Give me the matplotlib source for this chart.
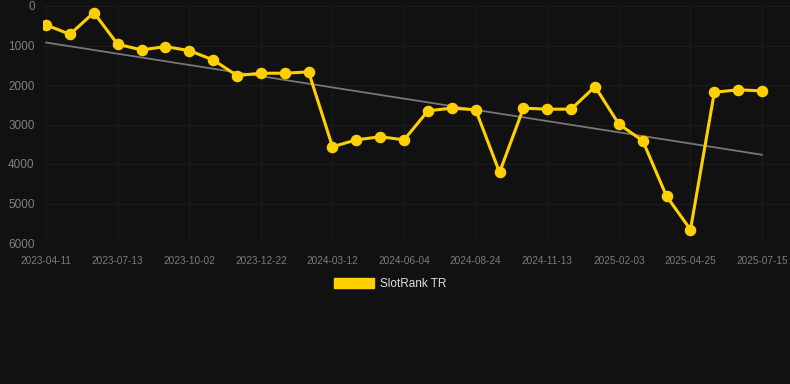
import matplotlib
matplotlib.use("Agg")
import matplotlib.pyplot as plt
import numpy as np
from matplotlib.patches import Patch

plt.rcParams['font.family'] = ['Liberation Sans', 'DejaVu Sans']

dates = ["2023-04-11", "2023-05-12", "2023-06-12", "2023-07-13", "2023-08-09", "2023-09-05",
         "2023-10-02", "2023-10-29", "2023-11-25", "2023-12-22", "2024-01-18", "2024-02-14",
         "2024-03-12", "2024-04-09", "2024-05-07", "2024-06-04", "2024-07-01", "2024-07-28",
         "2024-08-24", "2024-09-20", "2024-10-17", "2024-11-13", "2024-12-10", "2025-01-07",
         "2025-02-03", "2025-03-02", "2025-03-29", "2025-04-25", "2025-05-22", "2025-06-18",
         "2025-07-15"]
rank = [480, 716, 168, 969, 1112, 1028, 1129, 1365, 1761, 1702, 1702, 1668,
        3564, 3387, 3311, 3387, 2654, 2586, 2628, 4212, 2586, 2612, 2612, 2039,
        2991, 3412, 4819, 5661, 2182, 2123, 2148]
series_name = "SlotRank TR"

bg = "#111111"
fig = plt.figure(figsize=(7.9, 3.84), dpi=100, facecolor=bg)
ax = fig.add_axes([43/790, 141/384, 747/790, 237/384], facecolor=bg)

x = np.arange(len(dates))
coef = np.polyfit(x, rank, 1)
ax.plot(x, np.polyval(coef, x), color="#777777", lw=1.3, zorder=2)
ax.plot(x, rank, color="#FFD000", lw=2.2, marker="o", markersize=7.3, zorder=3,
        label=series_name)

ax.set_ylim(6000, 0)
ax.set_xlim(-0.13, 31.17)
ax.set_yticks(range(0, 6001, 1000))
ticks = x[::3]
ax.set_xticks(ticks)
ax.set_xticklabels([dates[i] for i in ticks])
ax.grid(True, color="#1b1b1b", lw=0.75)
for s in ax.spines.values():
    s.set_visible(False)
ax.tick_params(axis='x', length=0, pad=9, labelsize=7.2, labelcolor="#7c7c7c")
ax.tick_params(axis='y', length=0, pad=6, labelsize=8.5, labelcolor="#808080")

leg = fig.legend(handles=[Patch(facecolor="#FFD000", edgecolor="#FFD000", label=series_name)],
                 loc="center", bbox_to_anchor=(390/790, 1 - 284/384), frameon=False,
                 fontsize=8.5, handlelength=3.4, handleheight=0.9, handletextpad=0.5)
for t in leg.get_texts():
    t.set_color("#dddddd")

fig.savefig("out.png", dpi=100, facecolor=bg)
